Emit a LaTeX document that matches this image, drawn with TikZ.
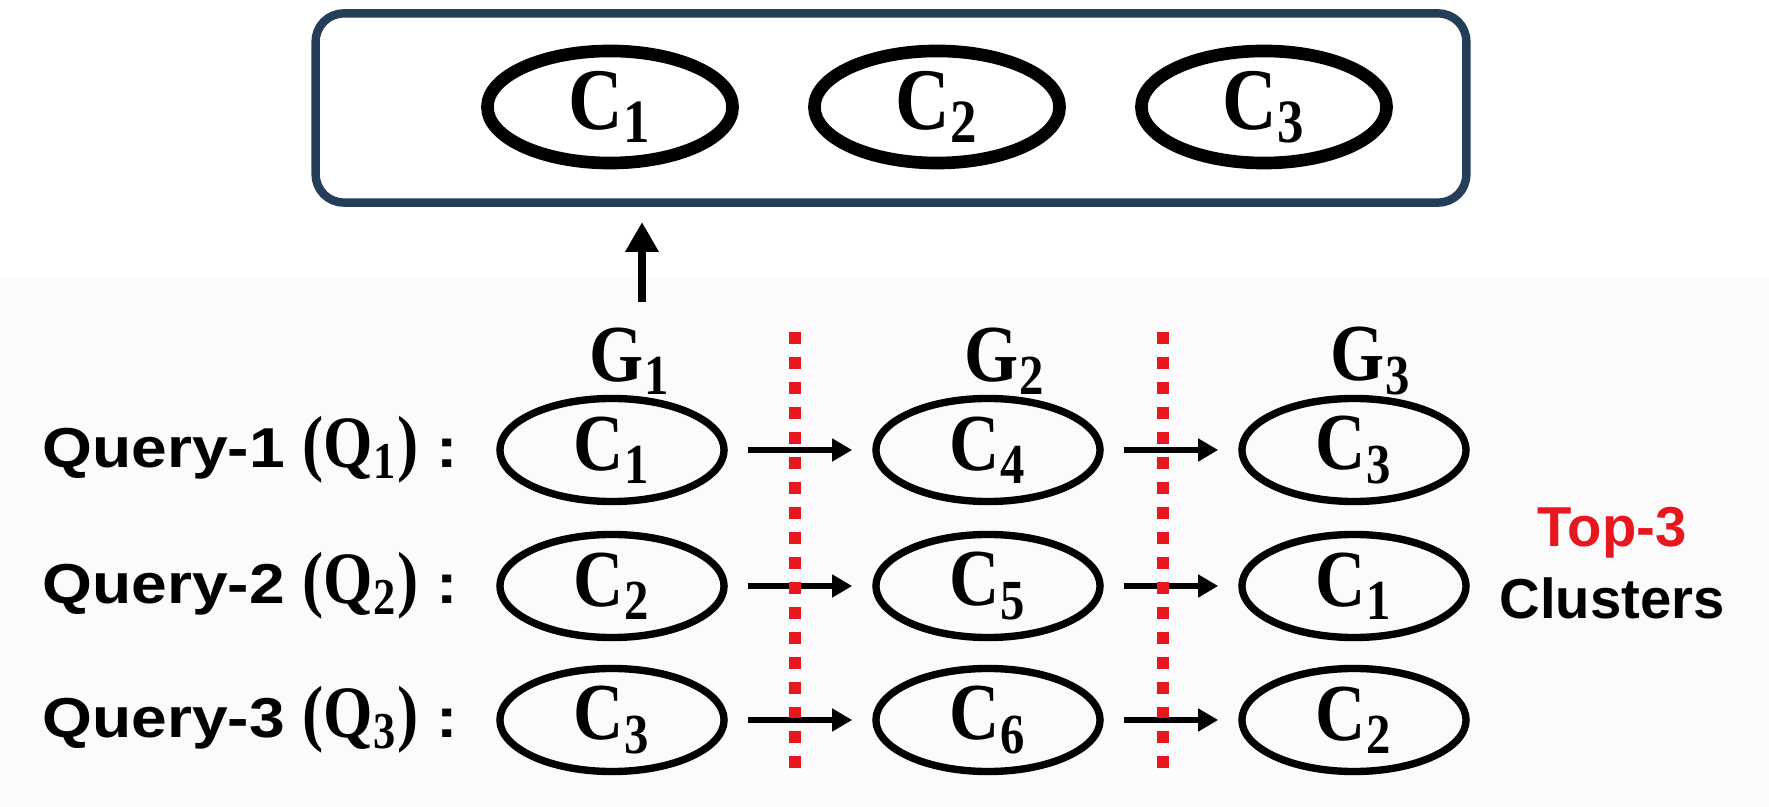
\documentclass[tikz,border=0pt]{standalone}
\usepackage{fontspec}
\setsansfont{Liberation Sans}
\newfontfamily\clfont[FakeStretch=0.86]{Liberation Serif}
\newfontfamily\lblfont[FakeStretch=1.14]{Liberation Sans}
\usetikzlibrary{shapes.geometric,arrows.meta}

\definecolor{boxblue}{RGB}{36,62,90}
\definecolor{cutred}{RGB}{232,22,30}

% cluster / group names, e.g. \clab{C}{4}
\newcommand{\clab}[2]{{\clfont\bfseries #1\textsubscript{#2}}}

\tikzset{
  cl/.style={draw,ellipse,line width=2.1pt,inner sep=0pt,
    minimum width=2.24cm,minimum height=1.03cm,
    font=\fontsize{23}{25}\selectfont},
  topcl/.style={cl,line width=3.6pt,minimum width=2.45cm,minimum height=1.12cm,
    font=\fontsize{25}{27}\selectfont},
  lbl/.style={font=\lblfont\bfseries\fontsize{16}{18}\selectfont},
  note/.style={font=\sffamily\bfseries\fontsize{16}{18}\selectfont},
  flow/.style={-{Triangle[length=5.7pt,width=6.2pt]},line width=1.7pt,
    shorten <=0.2cm,shorten >=0.2cm},
}

\begin{document}
\begin{tikzpicture}[x=0.01cm,y=-0.01cm]

        % page and the grey lower panel
        \useasboundingbox (0,0) rectangle (1769,807);
        \fill[black!1.5] (0,278) rectangle (1769,807);

        % box of selected clusters
        \node (sel) [draw=boxblue,line width=2.4pt,rounded corners=0.28cm,
          minimum width=11.5cm,minimum height=1.89cm] at (891,108) {};
        \foreach \n/\x in {1/610,2/937,3/1264}
                \node (top\n) [topcl] at (\x,107) {\clab{C}{\n}};

        % arrow up into the box
        \coordinate (upfoot) at (642,302);
        \coordinate (uptip) at (642,222);
        \draw[line width=2.4pt,-{Triangle[length=8.5pt,width=9pt]}] (upfoot) -- (uptip);

        % group headers
        \foreach \g/\x in {1/630,2/1005,3/1371}
                \node (g\g) [font=\fontsize{23}{25}\selectfont] at (\x,361) {\clab{G}{\g}};

        % one row per query: label and the clusters it visits
        \foreach \r/\y/\ca/\cb/\cc in {1/450/1/4/3,2/586/2/5/1,3/720/3/6/2} {
                \node (q\r) [lbl,anchor=east] at (470,\y)
                  {Query-\r\ {\fontsize{21}{23}\selectfont\clab{(Q}{\r}\clfont\bfseries)} :};
                \node (q\r g1) [cl] at (612,\y) {\clab{C}{\ca}};
                \node (q\r g2) [cl] at (988,\y) {\clab{C}{\cb}};
                \node (q\r g3) [cl] at (1354,\y) {\clab{C}{\cc}};
                \draw[flow] (q\r g1) -- (q\r g2);
                \draw[flow] (q\r g2) -- (q\r g3);
        }

        % cuts between the groups
        \foreach \x in {795,1163}
                \draw[cutred,line width=3.4pt,dash pattern=on 3.4pt off 3.7pt] (\x,332) -- (\x,772);

        % side note
        \node (top) [note,text=cutred,anchor=base] at (1612,547) {Top-3};
        \node (clusters) [note,anchor=base] at (1612,619) {Clusters};

\end{tikzpicture}
\end{document}
